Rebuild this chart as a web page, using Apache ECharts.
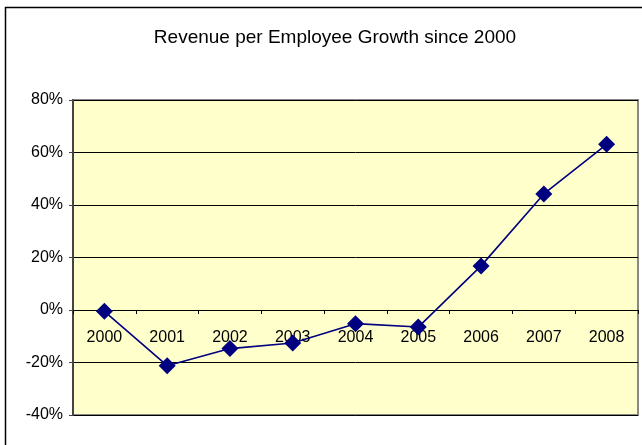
<!DOCTYPE html>
<html>
<head>
<meta charset="utf-8">
<script src="https://cdn.jsdelivr.net/npm/echarts@6/dist/echarts.min.js"></script>
<style>
html,body{margin:0;padding:0;background:#fff;}
#chart{width:642px;height:445px;}
</style>
</head>
<body>
<div id="chart"></div>
<script>
var titleText = 'Revenue per Employee Growth since 2000';
var years = ['2000','2001','2002','2003','2004','2005','2006','2007','2008'];
var growth = [-0.5, -21.2, -14.7, -12.6, -5.2, -6.5, 16.8, 44.2, 63.1];
var yMin = -40, yMax = 80, yStep = 20;

var chart = echarts.init(document.getElementById('chart'), null, {renderer:'canvas'});
var font = '"Liberation Sans", Arial, sans-serif';
var gridTop = 100, gridBottom = 30, H = 445;
var plotH = H - gridTop - gridBottom;
var zeroOffset = -plotH * (0 - yMin) / (yMax - yMin);
chart.setOption({
  animation: false,
  backgroundColor: '#ffffff',
  graphic: [{
    type: 'rect', z: -10,
    shape: {x: 5.5, y: 7.5, width: 700, height: 500},
    style: {fill: 'none', stroke: '#000', lineWidth: 1.5}
  }],
  title: {
    text: titleText,
    left: 330, top: 23, textAlign: 'center',
    textStyle: {fontFamily: font, fontSize: 19, fontWeight: 'normal', color: '#000'}
  },
  grid: {
    left: 73, right: 4, top: gridTop, bottom: gridBottom,
    show: true, backgroundColor: '#FFFFCC', borderColor: '#888888', borderWidth: 2
  },
  xAxis: {
    type: 'category', data: years, boundaryGap: true,
    position: 'bottom', offset: zeroOffset,
    axisLine: {onZero: false, lineStyle: {color: '#000', width: 1}},
    axisTick: {show: true, length: 4, lineStyle: {color: '#000'}},
    axisLabel: {margin: 20, fontFamily: font, fontSize: 16, color: '#000', interval: 0},
    splitLine: {show: false}
  },
  yAxis: {
    type: 'value', min: yMin, max: yMax, interval: yStep,
    axisLine: {show: true, lineStyle: {color: '#444', width: 2}},
    axisTick: {show: true, length: 4, lineStyle: {color: '#444'}},
    axisLabel: {formatter: '{value}%', margin: 10, fontFamily: font, fontSize: 16, color: '#000'},
    splitLine: {show: true, lineStyle: {color: '#000', width: 1}}
  },
  series: [{
    type: 'line', data: growth,
    symbol: 'diamond', symbolSize: 17,
    lineStyle: {color: '#000080', width: 1.6},
    itemStyle: {color: '#000080'},
    z: 5
  }]
});
</script>
</body>
</html>
